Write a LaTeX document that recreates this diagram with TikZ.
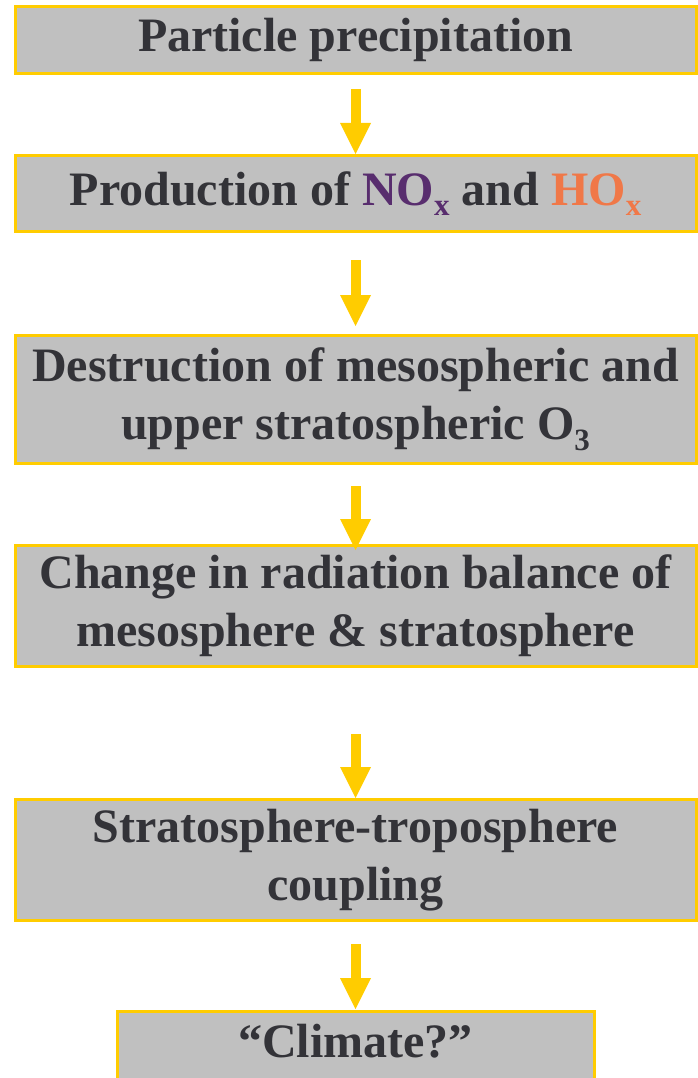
\documentclass[tikz,border=0pt]{standalone}
\usepackage{fontspec}
\setmainfont{Liberation Serif}
\usetikzlibrary{arrows.meta, positioning}
\definecolor{boxc}{RGB}{192,192,192}
\definecolor{goldc}{RGB}{255,204,0}
\definecolor{inkc}{RGB}{51,51,56}
\definecolor{noxc}{RGB}{88,45,110}
\definecolor{hoxc}{RGB}{240,120,72}
\newcommand{\lowsub}[1]{\raisebox{-0.22em}{\fontsize{31}{31}\selectfont #1}}
\tikzset{
  stage/.style={draw=goldc, line width=3pt, fill=boxc, minimum width=681pt,
                minimum height=#1, inner sep=0pt, align=center, text=inkc,
                font=\fontsize{48}{58}\selectfont\bfseries},
  stage/.default=67pt,
  flow/.style={-{Triangle[length=31pt, width=31pt, line width=0pt]},
               line width=10pt, goldc},
}

\begin{document}
\begin{tikzpicture}[x=1pt, y=-1pt]
  \useasboundingbox (0,0) rectangle (698,1078);
  \clip (0,0) rectangle (698,1078);
  \node[stage] (part) at (355.5,40) {Particle precipitation};
  \node[stage=76pt, below=79pt of part] (prod)
    {Production of {\color{noxc}NO\lowsub{x}} and {\color{hoxc}HO\lowsub{x}}};
  \node[stage=128pt, below=101pt of prod] (dest)
    {Destruction of mesospheric and\\upper stratospheric O\lowsub{3}};
  \node[stage=121pt, below=79pt of dest] (rad)
    {Change in radiation balance of\\mesosphere \& stratosphere};
  \node[stage=121pt, below=130pt of rad] (coup)
    {Stratosphere-troposphere\\coupling};
  \node[stage=0pt, minimum width=477pt, text height=45.5pt, text depth=41.5pt,
        below=88pt of coup] (clim) {“Climate?”};
  % block arrows between the stages
  \draw[flow, shorten <=14pt, shorten >=0pt] (part) -- (prod);
  \draw[flow, shorten <=27pt, shorten >=8pt] (prod) -- (dest);
  \draw[flow, shorten <=21pt, shorten >=-6pt] (dest) -- (rad);
  \draw[flow, shorten <=66pt, shorten >=0pt] (rad) -- (coup);
  \draw[flow, shorten <=22pt, shorten >=1pt] (coup) -- (clim);
\end{tikzpicture}
\end{document}
